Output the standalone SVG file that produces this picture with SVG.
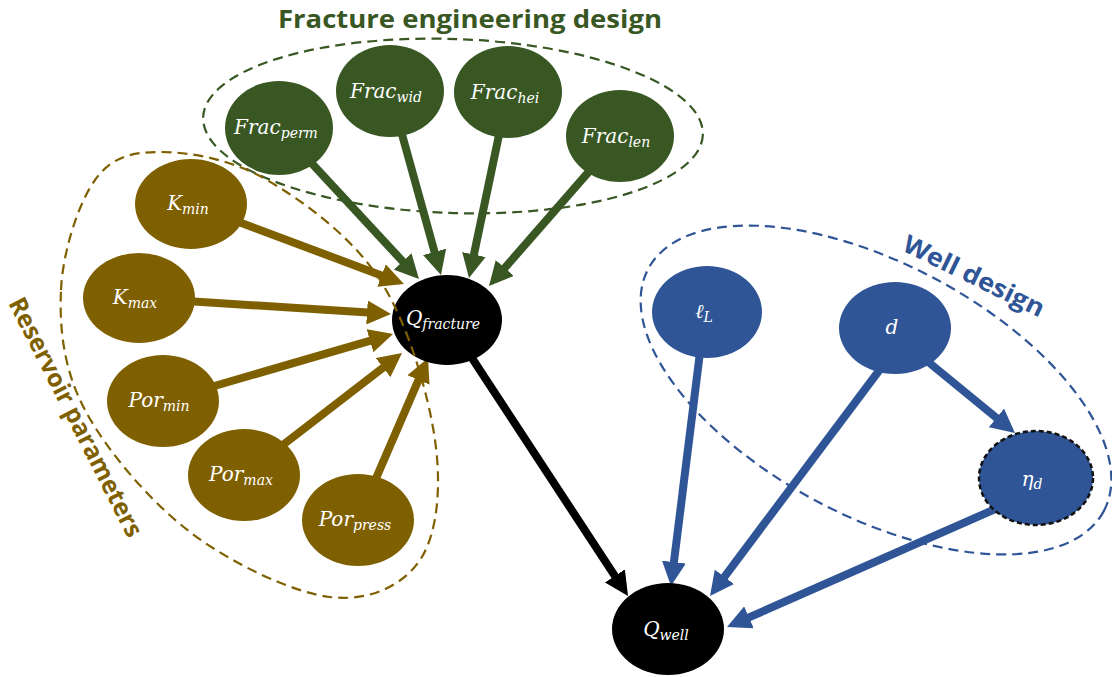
<svg xmlns="http://www.w3.org/2000/svg" width="1112" height="677" viewBox="0 0 1112 677">
<style>
.lbl{font-family:"DejaVu Serif","Liberation Serif",serif;font-style:italic;fill:#ffffff;font-size:20px;text-anchor:middle}
.sub{font-size:14px}
.grp{font-family:"Open Sans","Liberation Sans",sans-serif;font-weight:700;font-size:25px}
.g{fill:#385723}.b{fill:#7F6000}.w{fill:#2F5597}.k{fill:#000000}
.eg{stroke:#385723;stroke-width:8;fill:none;marker-end:url(#ag)}
.eb{stroke:#7F6000;stroke-width:8;fill:none;marker-end:url(#ab)}
.ew{stroke:#2F5597;stroke-width:8;fill:none;marker-end:url(#aw)}
.ek{stroke:#000000;stroke-width:8;fill:none;marker-end:url(#ak)}
.dash{fill:none;stroke-width:2.2;stroke-dasharray:10 6}
</style>
<defs>
<marker id="ag" viewBox="0 0 24 24" refX="5" refY="12" markerWidth="3" markerHeight="3" orient="auto"><path d="M0,0 L24,12 L0,24 z" fill="#385723"/></marker>
<marker id="ab" viewBox="0 0 24 24" refX="5" refY="12" markerWidth="3" markerHeight="3" orient="auto"><path d="M0,0 L24,12 L0,24 z" fill="#7F6000"/></marker>
<marker id="aw" viewBox="0 0 24 24" refX="5" refY="12" markerWidth="3" markerHeight="3" orient="auto"><path d="M0,0 L24,12 L0,24 z" fill="#2F5597"/></marker>
<marker id="ak" viewBox="0 0 24 24" refX="5" refY="12" markerWidth="3" markerHeight="3" orient="auto"><path d="M0,0 L24,12 L0,24 z" fill="#000000"/></marker>
</defs>
<rect width="1112" height="677" fill="#ffffff"/>

<g id="connectors">
<line class="eg" x1="279" y1="128" x2="406.1" y2="265.1"/>
<line class="eg" x1="390" y1="91" x2="435.9" y2="256.7"/>
<line class="eg" x1="508" y1="92" x2="472.9" y2="259.4"/>
<line class="eg" x1="620" y1="136" x2="501.5" y2="271.7"/>
<line class="eb" x1="191" y1="204" x2="386.2" y2="277.3"/>
<line class="eb" x1="139" y1="298" x2="372" y2="312.8"/>
<line class="eb" x1="163" y1="401" x2="374.8" y2="339.3"/>
<line class="eb" x1="244" y1="475" x2="387" y2="364.6"/>
<line class="eb" x1="358" y1="520" x2="420.5" y2="375.4"/>
<line class="ek" x1="447" y1="320" x2="617.6" y2="580.1"/>
<line class="ew" x1="705" y1="312" x2="673.3" y2="567.1"/>
<line class="ew" x1="911" y1="328" x2="721.4" y2="580.8"/>
<line class="ew" x1="899" y1="338" x2="1000.3" y2="421"/>
<line class="ew" x1="1034" y1="492" x2="744.4" y2="619.4"/>
</g>

<g id="frac_perm"><ellipse class="g" cx="279" cy="128" rx="54" ry="47"/><text class="lbl" x="276" y="134">Frac<tspan class="sub" dy="4">perm</tspan></text></g>
<g id="frac_wid"><ellipse class="g" cx="390" cy="91" rx="54" ry="46"/><text class="lbl" x="386" y="98">Frac<tspan class="sub" dy="4">wid</tspan></text></g>
<g id="frac_hei"><ellipse class="g" cx="508" cy="92" rx="54" ry="46"/><text class="lbl" x="505" y="99">Frac<tspan class="sub" dy="4">hei</tspan></text></g>
<g id="frac_len"><ellipse class="g" cx="620" cy="136" rx="54" ry="46"/><text class="lbl" x="616" y="143">Frac<tspan class="sub" dy="4">len</tspan></text></g>

<g id="k_min"><ellipse class="b" cx="191" cy="204" rx="56" ry="45"/><text class="lbl" x="188" y="210">K<tspan class="sub" dy="4">min</tspan></text></g>
<g id="k_max"><ellipse class="b" cx="139" cy="298" rx="56" ry="45"/><text class="lbl" x="135" y="304">K<tspan class="sub" dy="4">max</tspan></text></g>
<g id="por_min"><ellipse class="b" cx="163" cy="401" rx="56" ry="46"/><text class="lbl" x="159" y="407">Por<tspan class="sub" dy="4">min</tspan></text></g>
<g id="por_max"><ellipse class="b" cx="244" cy="475" rx="56" ry="46"/><text class="lbl" x="241" y="481">Por<tspan class="sub" dy="4">max</tspan></text></g>
<g id="por_press"><ellipse class="b" cx="358" cy="520" rx="56" ry="46"/><text class="lbl" x="355" y="526">Por<tspan class="sub" dy="4">press</tspan></text></g>

<g id="q_fracture"><ellipse class="k" cx="447" cy="320" rx="55" ry="45"/><text class="lbl" x="443" y="325">Q<tspan class="sub" dy="4">fracture</tspan></text></g>
<g id="q_well"><ellipse class="k" cx="668" cy="629" rx="56" ry="46"/><text class="lbl" x="666" y="636">Q<tspan class="sub" dy="4">well</tspan></text></g>

<g id="l_L"><ellipse class="w" cx="707" cy="312" rx="55" ry="46"/><text class="lbl" x="704" y="318">ℓ<tspan class="sub" dy="4">L</tspan></text></g>
<g id="d"><ellipse class="w" cx="895" cy="328" rx="56" ry="46"/><text class="lbl" x="892" y="334">d</text></g>
<g id="eta_d"><ellipse class="w" cx="1036" cy="478" rx="57" ry="47" stroke="#111111" stroke-width="2.5" stroke-dasharray="5 3"/><text class="lbl" x="1032" y="486">η<tspan class="sub" dy="3">d</tspan></text></g>

<g id="groups">
<ellipse class="dash" stroke="#385723" cx="453" cy="126" rx="250" ry="87" transform="rotate(2 453 126)"/>
<path class="dash" stroke="#7F6000" d="M61,290 C62.7,251.7 78.5,203 95,180 C111.5,157 131.3,152 160,152 C188.7,152 230.3,158.7 267,180 C303.7,201.3 352,236.7 380,280 C408,323.3 428.3,393.3 435,440 C441.7,486.7 437.5,533.8 420,560 C402.5,586.2 368.3,601.7 330,597 C291.7,592.3 230.8,563.2 190,532 C149.2,500.8 106.5,450.3 85,410 C63.5,369.7 59.3,328.3 61,290 Z"/>
<ellipse class="dash" stroke="#2F5597" cx="876" cy="390" rx="258" ry="126" transform="rotate(28 876 390)"/>
<text class="grp g" x="278" y="28" textLength="384" lengthAdjust="spacingAndGlyphs">Fracture engineering design</text>
<text class="grp b" transform="translate(8,303) rotate(63)" x="0" y="0" textLength="265" lengthAdjust="spacingAndGlyphs">Reservoir parameters</text>
<text class="grp w" transform="translate(901,250) rotate(26)" x="0" y="0" textLength="154" lengthAdjust="spacingAndGlyphs">Well design</text>
</g>
</svg>
